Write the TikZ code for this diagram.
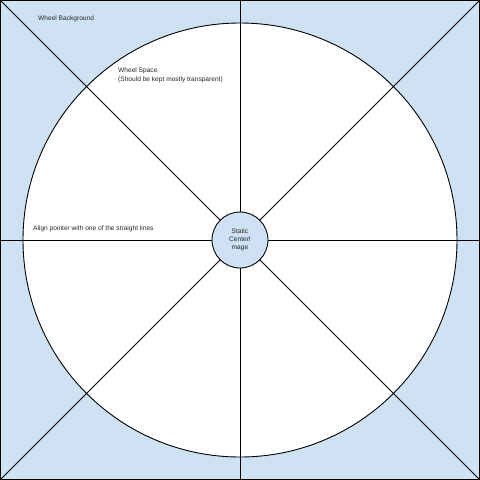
\documentclass[tikz,border=0pt]{standalone}
\usepackage{fontspec}
\setmainfont{Liberation Sans}
\definecolor{wheelblue}{HTML}{CFE2F3}
\begin{document}
\begin{tikzpicture}[x=1pt,y=-1pt,
  lbl/.style={font=\fontsize{6.6}{8.2}\selectfont, text=black!85, inner sep=0pt},
  spoke/.style={draw=black, line width=0.9pt}]
\useasboundingbox (0,0) rectangle (480,480);
% square background
\node[draw=black, fill=wheelblue, line width=0.9pt, minimum size=479pt, inner sep=0pt] (bg) at (240,240) {};
% wheel area
\node[circle, draw=black, fill=white, line width=0.9pt, minimum size=434pt, inner sep=0pt] (wheel) at (240,240) {};
% spokes
\coordinate (tl) at (0,0);
\coordinate (tr) at (480,0);
\coordinate (bl) at (0,480);
\coordinate (br) at (480,480);
\coordinate (tm) at (240,0);
\coordinate (bm) at (240,480);
\coordinate (lm) at (0,240);
\coordinate (rm) at (480,240);
\draw[spoke] (tl) -- (br);
\draw[spoke] (tr) -- (bl);
\draw[spoke] (tm) -- (bm);
\draw[spoke] (lm) -- (rm);
% hub
\node[circle, draw=black, fill=wheelblue, line width=0.9pt, minimum size=56pt, inner sep=0pt,
  align=center, font=\fontsize{6.6}{8}\selectfont, text=black!85] (hub) at (240,240) {Static\\CenterI\\mage};
% labels
\node[lbl, anchor=west] (bgl) at (38,19) {Wheel Background};
\node[lbl, anchor=north west, align=left] (wsl) at (118,68) {Wheel Space\\(Should be kept mostly transparent)};
\node[lbl, anchor=west] (apl) at (33,229) {Align pointer with one of the straight lines};
\end{tikzpicture}
\end{document}
